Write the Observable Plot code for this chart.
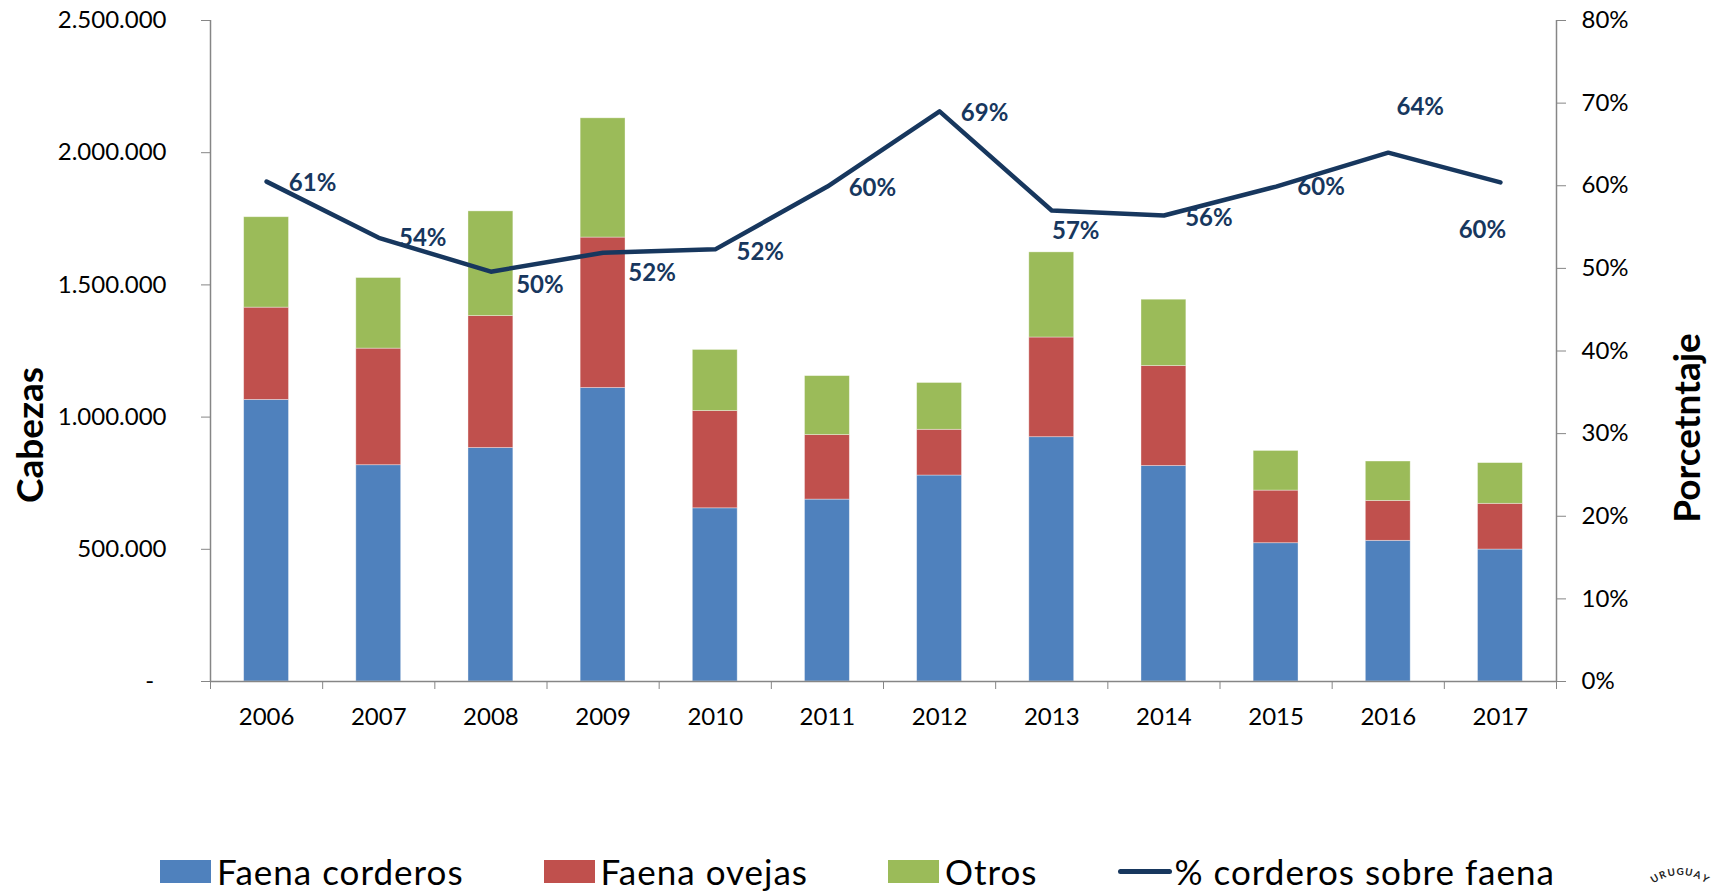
<!DOCTYPE html>
<html><head><meta charset="utf-8">
<script src="https://cdn.jsdelivr.net/npm/d3@7"></script>
<script src="https://cdn.jsdelivr.net/npm/@observablehq/plot@0.6"></script>
<style>
html,body{margin:0;padding:0;background:#fff;}
body{width:1715px;height:891px;position:relative;overflow:hidden;font-family:Lato,sans-serif;}
#legend{position:absolute;top:850px;left:0;width:1715px;display:flex;justify-content:center;align-items:center;font-size:35px;line-height:42px;color:#000;white-space:nowrap;letter-spacing:1px;}
.item{display:flex;align-items:center;margin:0 40px;}
.sw{width:51px;height:23px;margin-right:6px;}
.ln{width:54px;height:5px;border-radius:3px;background:#17375E;margin-right:3px;}
#logo{position:absolute;left:1600px;top:850px;}
</style></head><body>
<div id="chart"></div>
<div id="legend"></div>
<svg id="logo" width="115" height="41"></svg>
<script>
// ---- data ----
const years = [2006, 2007, 2008, 2009, 2010, 2011, 2012, 2013, 2014, 2015, 2016, 2017];
const series = ["Faena corderos", "Faena ovejas", "Otros"];
const corderos = [1065000, 818000, 883000, 1110000, 655000, 688000, 779000, 924000, 815000, 523000, 532000, 499000];
const ovejas   = [349000, 441000, 499000, 569000, 368000, 244000, 173000, 377000, 378000, 199000, 151000, 173000];
const otros    = [342000, 267000, 396000, 451000, 231000, 223000, 177000, 322000, 251000, 150000, 149000, 154000];
const pctCorderos = [60.5, 53.7, 49.6, 51.9, 52.3, 59.9, 69.0, 57.0, 56.4, 59.9, 64.0, 60.4];
const pctLabels = ["61%", "54%", "50%", "52%", "52%", "60%", "69%", "57%", "56%", "60%", "64%", "60%"];
const leftTicks = [0, 500000, 1000000, 1500000, 2000000, 2500000];
const rightTicks = [0, 10, 20, 30, 40, 50, 60, 70, 80];
const lineName = "% corderos sobre faena";
const logoWord = "URUGUAY";

// ---- styles / layout ----
const colors = ["#4F81BD", "#C0504D", "#9BBB59"];
const navy = "#17375E";
const axisGrey = "#868686";
const K = 2500000 / 80; // percent -> left-axis units
const labelOffset = {
  2006: [46, 2], 2007: [44, 1], 2008: [49, 14], 2009: [49, 21], 2010: [45, 3], 2011: [45, 2],
  2012: [45, 2], 2013: [24, 21], 2014: [45, 3], 2015: [45, 1], 2016: [32, -45], 2017: [-18, 48]
};

const valuesBySerie = [corderos, ovejas, otros];
const rows = years.flatMap((yr, i) => series.map((s, j) => ({year: yr, serie: s, value: valuesBySerie[j][i]})));
const pts = years.map((yr, i) => ({year: yr, pct: pctCorderos[i], label: pctLabels[i]}));

const locale = d3.formatLocale({decimal: ",", thousands: ".", grouping: [3], currency: ["", ""]});
const fmt = locale.format(",");

const chart = Plot.plot({
  width: 1715, height: 745,
  marginTop: 20, marginBottom: 64, marginLeft: 210, marginRight: 159,
  style: {fontFamily: "Lato, sans-serif", fontSize: "24px", color: "#000", background: "#fff"},
  x: {type: "linear", domain: [2005.5, 2017.5]},
  y: {domain: [0, 2500000]},
  color: {domain: series, range: colors},
  marks: [
    Plot.rectY(rows, {x1: d => d.year - 0.2, x2: d => d.year + 0.2, y: "value", fill: "serie",
      stroke: "#fff", strokeOpacity: 0.45, strokeWidth: 0.8}),
    Plot.ruleX([2005.5, 2017.5], {stroke: axisGrey, strokeWidth: 1.5}),
    Plot.ruleY([0], {stroke: axisGrey, strokeWidth: 1.5}),
    Plot.axisY({anchor: "left", ticks: leftTicks, tickSize: 9, tickPadding: 35, stroke: axisGrey, fill: "#000",
      tickFormat: d => d === 0 ? "-\u00a0\u00a0" : fmt(d), label: null}),
    Plot.axisY({anchor: "right", ticks: rightTicks.map(p => p * K), tickSize: 9, tickPadding: 16, stroke: axisGrey, fill: "#000",
      tickFormat: d => Math.round(d / K) + "%", label: null}),
    Plot.axisX({ticks: d3.range(years.length + 1).map(i => years[0] - 0.5 + i), tickSize: 8, stroke: axisGrey,
      tickFormat: () => "", label: null}),
    Plot.axisX({ticks: years, tickSize: 0, tickPadding: 26, fill: "#000", tickFormat: d => String(d), label: null}),
    Plot.line(pts, {x: "year", y: d => d.pct * K, stroke: navy, strokeWidth: 4.5}),
    ...pts.map(p => Plot.text([p], {x: "year", y: d => d.pct * K, text: "label",
      dx: labelOffset[p.year][0], dy: labelOffset[p.year][1], fill: navy, fontWeight: "bold", fontSize: 24})),
    Plot.text(["Cabezas"], {text: d => d, frameAnchor: "left", textAnchor: "middle", dx: -179, dy: 84, rotate: -90,
      fontSize: 37, fontWeight: "bold", fill: "#000"}),
    Plot.text(["Porcetntaje"], {text: d => d, frameAnchor: "right", textAnchor: "middle", dx: 132, dy: 77, rotate: -90,
      fontSize: 37, fontWeight: "bold", fill: "#000"})
  ]
});
document.getElementById("chart").appendChild(chart);

// legend
const legend = document.getElementById("legend");
series.forEach((s, i) => {
  const it = document.createElement("div"); it.className = "item";
  const sw = document.createElement("div"); sw.className = "sw"; sw.style.background = colors[i];
  const t = document.createElement("span"); t.textContent = s;
  it.appendChild(sw); it.appendChild(t); legend.appendChild(it);
});
{
  const it = document.createElement("div"); it.className = "item";
  const sw = document.createElement("div"); sw.className = "ln";
  const t = document.createElement("span"); t.textContent = lineName;
  it.appendChild(sw); it.appendChild(t); legend.appendChild(it);
}

// small seal lettering (bottom-right), letters placed along an arc
{
  const svg = d3.select("#logo");
  const cx = 80, cy = 70, r = 45, step = 10.5;
  const n = logoWord.length;
  logoWord.split("").forEach((ch, i) => {
    const a = ((i - (n - 1) / 2) * step) * Math.PI / 180;
    const x = cx + r * Math.sin(a), y = cy - r * Math.cos(a);
    svg.append("text").attr("x", 0).attr("y", 0)
      .attr("transform", `translate(${x},${y}) rotate(${a * 180 / Math.PI})`)
      .attr("text-anchor", "middle").attr("font-family", "Lato, sans-serif")
      .attr("font-size", 10).attr("font-weight", "bold").attr("fill", "#222").text(ch);
  });
}
</script>
</body></html>
